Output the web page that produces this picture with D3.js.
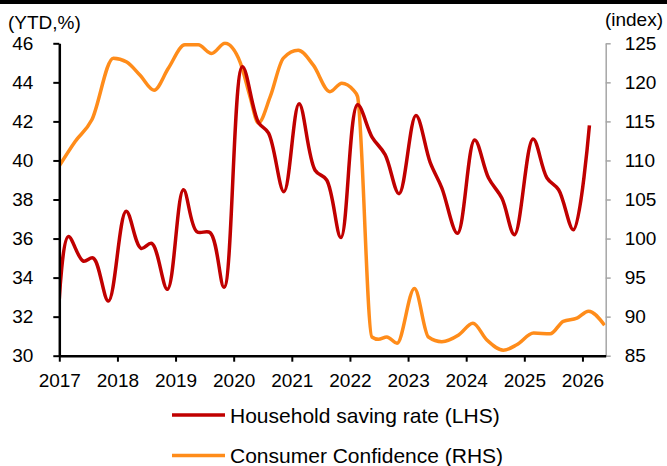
<!DOCTYPE html>
<html>
<head>
<meta charset="utf-8">
<script src="https://cdn.jsdelivr.net/npm/d3@7"></script>
<style>
  html, body { margin: 0; padding: 0; background: #fff; }
  svg { display: block; font-family: "Liberation Sans", Arial, sans-serif; }
</style>
</head>
<body>
<svg id="chart" width="667" height="466"></svg>
<script>
// ---- Data (fractional-year dates) ----
const savingDates = [2017.00, 2017.155, 2017.41, 2017.585, 2017.845, 2018.15, 2018.405, 2018.59, 2018.86,
  2019.135, 2019.365, 2019.595, 2019.835, 2020.15, 2020.425, 2020.60, 2020.865, 2021.125, 2021.40, 2021.60,
  2021.845, 2022.13, 2022.38, 2022.605, 2022.845, 2023.135, 2023.38, 2023.58, 2023.85, 2024.145, 2024.385,
  2024.615, 2024.83, 2025.15, 2025.39, 2025.59, 2025.845, 2026.12];
const savingRate = [32.9, 36.1, 34.85, 35.0, 32.8, 37.4, 35.5, 35.75, 33.4,
  38.5, 36.35, 36.3, 33.5, 44.8, 41.95, 41.4, 38.4, 42.9, 39.5, 39.0,
  36.05, 42.85, 41.2, 40.3, 38.3, 42.3, 39.9, 38.6, 36.27, 41.05, 39.1,
  38.06, 36.2, 41.1, 39.1, 38.5, 36.45, 41.8];

const confDates = [2017.00, 2017.27, 2017.56, 2017.93, 2018.16, 2018.39, 2018.63, 2018.876,
  2019.16, 2019.39, 2019.62, 2019.85, 2020.11, 2020.28, 2020.425, 2020.63, 2020.855, 2021.11, 2021.37,
  2021.655, 2021.86, 2022.06, 2022.13, 2022.377, 2022.49, 2022.635, 2022.81, 2023.11, 2023.35, 2023.58,
  2023.87, 2024.115, 2024.356, 2024.64, 2024.87, 2025.16, 2025.445, 2025.67, 2025.905, 2026.105, 2026.38];
const consumerConfidence = [109.3, 112.4, 115.2, 123.1, 122.6, 120.9, 119.0, 121.8,
  124.8, 124.8, 123.7, 125.0, 122.6, 118.2, 114.8, 118.2, 123.1, 124.1, 122.2,
  118.8, 119.9, 119.0, 118.2, 87.4, 87.1, 87.4, 86.6, 93.6, 87.4, 86.8,
  87.65, 89.15, 87.0, 85.7, 86.4, 87.9, 87.8, 89.4, 89.8, 90.7, 88.9];

const yearTicks = [2017, 2018, 2019, 2020, 2021, 2022, 2023, 2024, 2025, 2026];
const leftTicks = [30, 32, 34, 36, 38, 40, 42, 44, 46];
const rightTicks = [85, 90, 95, 100, 105, 110, 115, 120, 125];
const seriesNames = ["Household saving rate (LHS)", "Consumer Confidence (RHS)"];
const seriesColors = ["#C00000", "#FF8C1A"];

// ---- Layout ----
const svg = d3.select("#chart");
const L = 59.3, R = 605.7, T = 43.3, B = 355.7;

const x = d3.scaleLinear().domain([2017, 2026.4]).range([L, R]);
const yL = d3.scaleLinear().domain([30, 46]).range([B, T]);
const yR = d3.scaleLinear().domain([85, 125]).range([B, T]);

// top black bar
svg.append("rect").attr("x", 0).attr("y", 0).attr("width", 667).attr("height", 4).attr("fill", "#000");

svg.append("clipPath").attr("id", "plotclip")
  .append("rect").attr("x", L).attr("y", T - 2).attr("width", R - L).attr("height", B - T + 2);

// lines
const savingData = savingDates.map((d, i) => [d, savingRate[i]]);
const confData = confDates.map((d, i) => [d, consumerConfidence[i]]);

const plot = svg.append("g").attr("clip-path", "url(#plotclip)");
plot.append("path").datum(confData)
  .attr("fill", "none").attr("stroke", seriesColors[1]).attr("stroke-width", 3.5)
  .attr("stroke-linejoin", "round")
  .attr("d", d3.line().x(d => x(d[0])).y(d => yR(d[1])).curve(d3.curveMonotoneX));
plot.append("path").datum(savingData)
  .attr("fill", "none").attr("stroke", seriesColors[0]).attr("stroke-width", 3.5)
  .attr("stroke-linejoin", "round")
  .attr("d", d3.line().x(d => x(d[0])).y(d => yL(d[1])).curve(d3.curveCatmullRom.alpha(0.5)));

// axes
const fontSize = "19px";
const gL = svg.append("g").attr("transform", `translate(${L},0)`)
  .call(d3.axisLeft(yL).tickValues(leftTicks).tickSize(6).tickPadding(20).tickSizeOuter(0));
gL.select(".domain").attr("stroke", "#000").attr("stroke-width", 2.5);
gL.selectAll(".tick line").attr("stroke", "#000").attr("stroke-width", 2);
gL.selectAll("text").attr("font-size", fontSize).attr("fill", "#000").attr("font-family", "Liberation Sans, Arial, sans-serif");

const gR = svg.append("g").attr("transform", `translate(${R},0)`)
  .call(d3.axisRight(yR).tickValues(rightTicks).tickSize(5).tickPadding(14).tickSizeOuter(0));
gR.select(".domain").attr("stroke", "#a6a6a6").attr("stroke-width", 1.5);
gR.selectAll(".tick line").attr("stroke", "#a6a6a6").attr("stroke-width", 1.5);
gR.selectAll("text").attr("font-size", fontSize).attr("fill", "#000").attr("font-family", "Liberation Sans, Arial, sans-serif");

const gX = svg.append("g").attr("transform", `translate(0,${B})`)
  .call(d3.axisBottom(x).tickValues(yearTicks).tickFormat(d3.format("d")).tickSize(6).tickPadding(12).tickSizeOuter(0));
gX.select(".domain").attr("stroke", "#000").attr("stroke-width", 2.5);
gX.selectAll(".tick line").attr("stroke", "#000").attr("stroke-width", 2);
gX.selectAll("text").attr("font-size", fontSize).attr("fill", "#000").attr("font-family", "Liberation Sans, Arial, sans-serif");

// axis titles
svg.append("text").attr("x", 8).attr("y", 29).attr("font-size", fontSize).text("(YTD,%)");
svg.append("text").attr("x", 663).attr("y", 26).attr("text-anchor", "end").attr("font-size", fontSize).text("(index)");

// legend
const legY = [415, 455.5];
seriesNames.forEach((name, i) => {
  svg.append("line").attr("x1", 172).attr("x2", 225).attr("y1", legY[i]).attr("y2", legY[i])
    .attr("stroke", seriesColors[i]).attr("stroke-width", 3.5);
  svg.append("text").attr("x", 230).attr("y", legY[i] + 7.5).attr("font-size", "21px").attr("fill", "#000").text(name);
});
</script>
</body>
</html>
